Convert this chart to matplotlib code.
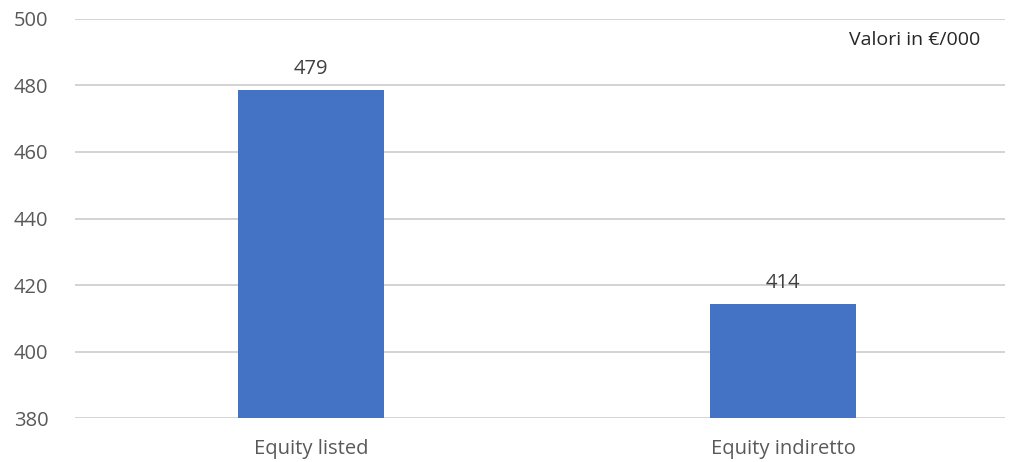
"""Bar chart: equity listed vs equity indiretto (values in EUR/000)."""
import matplotlib
matplotlib.use("Agg")
import matplotlib.pyplot as plt

categories = ["Equity listed", "Equity indiretto"]
values = [478.6, 414.4]
y_ticks = [380, 400, 420, 440, 460, 480, 500]

plt.rcParams["font.family"] = ["Open Sans", "DejaVu Sans"]

fig = plt.figure(figsize=(10.13, 4.62), dpi=100)
ax = fig.add_axes([0.074, 0.0952, 0.918, 0.8637])

x = range(len(categories))
ax.bar(x, values, width=0.31, color="#4472C4", zorder=3)

for xi, v in zip(x, values):
    ax.annotate(f"{v:.0f}", (xi, v), xytext=(0, 8), textcoords="offset points",
                ha="center", va="bottom", fontsize=14.5, color="#404040")

ax.set_ylim(380, 500)
ax.set_xlim(-0.5, 1.47)
ax.set_yticks(y_ticks)
ax.set_xticks(list(x))
ax.set_xticklabels(categories)
ax.tick_params(axis="both", length=0, labelsize=14.5, labelcolor="#595959")
ax.tick_params(axis="y", pad=19)
ax.tick_params(axis="x", pad=15)
ax.grid(axis="y", color="#d0d0d0", lw=1.3, zorder=0)
for s in ax.spines.values():
    s.set_visible(False)

ax.text(0.973, 0.947, "Valori in €/000", transform=ax.transAxes,
        ha="right", va="center", fontsize=14, color="#262626")

fig.savefig("out.png", dpi=100)
